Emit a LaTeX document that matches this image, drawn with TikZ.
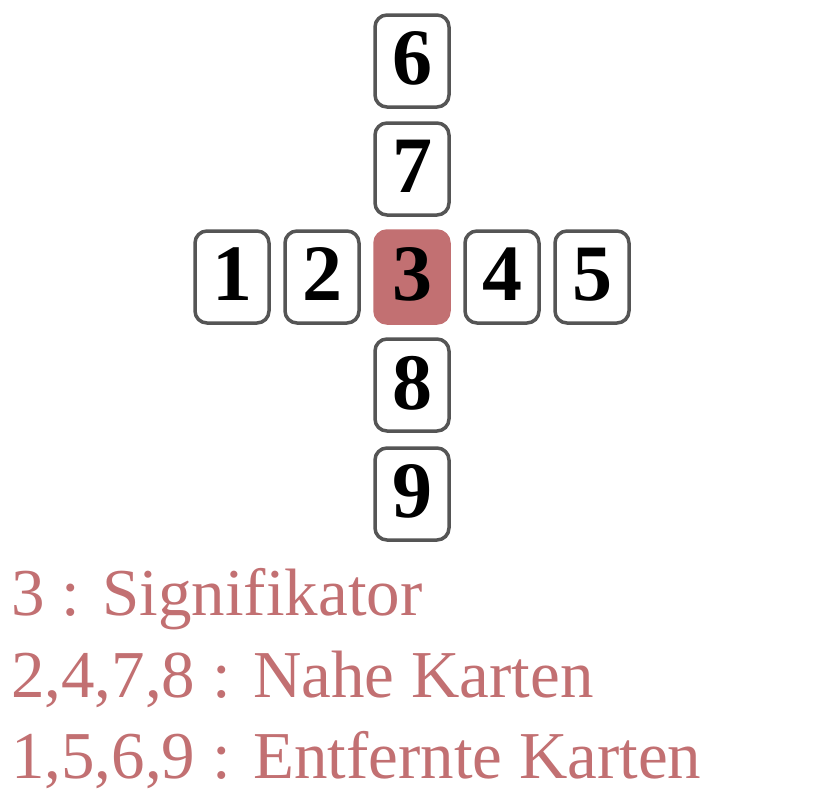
\documentclass[tikz,border=0pt]{standalone}
\usepackage{fontspec}
\setmainfont{Liberation Serif}
\definecolor{cardgray}{RGB}{85,85,85}
\definecolor{signrose}{RGB}{194,112,114}
\tikzset{
  card/.style={draw=cardgray, line width=3.5pt, rounded corners=12pt, fill=white,
    minimum width=74pt, minimum height=92pt, inner sep=0pt, text depth=5pt,
    font=\fontsize{80}{80}\selectfont\bfseries},
  signcard/.style={card, draw=signrose, fill=signrose},
  legend/.style={anchor=base west, inner sep=0pt, text=signrose,
    font=\fontsize{67}{80}\selectfont}
}
\begin{document}
\begin{tikzpicture}[x=1pt,y=-1pt]
\useasboundingbox (0,0) rectangle (825,801);
\node[card] (c6) at (412,61) {6};
\node[card] (c7) at (412,169) {7};
\node[card] (c1) at (232,277) {1};
\node[card] (c2) at (322,277) {2};
\node[signcard] (c3) at (412,277) {3};
\node[card] (c4) at (502,277) {4};
\node[card] (c5) at (592,277) {5};
\node[card] (c8) at (412,385) {8};
\node[card] (c9) at (412,494) {9};
\node[legend] (l1) at (11,615) {3 : Signifikator};
\node[legend] (l2) at (11,697) {2,4,7,8 : Nahe Karten};
\node[legend] (l3) at (11,778) {1,5,6,9 : Entfernte Karten};
\end{tikzpicture}
\end{document}
